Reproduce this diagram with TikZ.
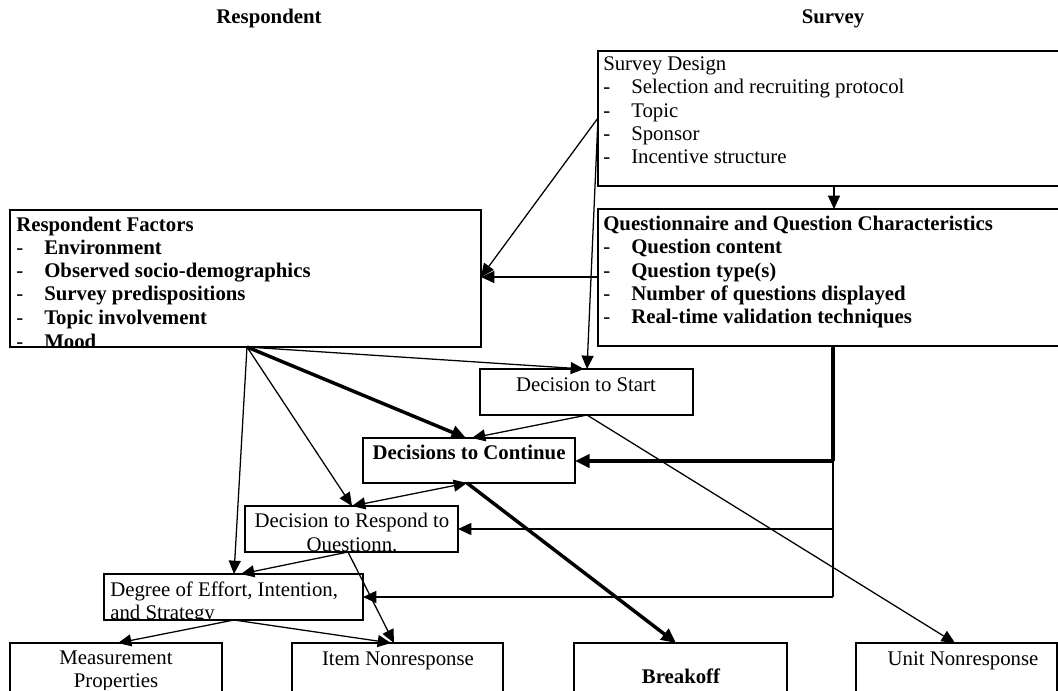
\documentclass[tikz,border=0pt]{standalone}
\usepackage{fontspec}
\setmainfont{Liberation Serif}
\usetikzlibrary{arrows.meta,fit}
\newcommand\fsz{\fontsize{15.6pt}{17.4pt}\selectfont}
\begin{document}
\begin{tikzpicture}[x=0.75pt,y=-0.75pt,
  bx/.style={draw,line width=1pt,inner sep=0pt,outer sep=0pt},
  ltxt/.style={font=\fsz,inner sep=0pt,anchor=base west},
  btxt/.style={font=\fsz\bfseries,inner sep=0pt,anchor=base west},
  ctxt/.style={font=\fsz,inner sep=0pt,anchor=base},
  cbtxt/.style={font=\fsz\bfseries,inner sep=0pt,anchor=base},
  thinarr/.style={line width=0.95pt,-{Triangle[length=10pt,width=9pt]}},
  thinboth/.style={line width=0.95pt,{Triangle[length=10pt,width=9pt]}-{Triangle[length=10pt,width=9pt]}},
  thickarr/.style={line width=2.6pt,-{Triangle[length=11pt,width=10pt]}},
  midarr/.style={line width=1.2pt,-{Triangle[length=10pt,width=9pt]}},
  busline/.style={line width=2.6pt},
  busthin/.style={line width=1.5pt}]
\useasboundingbox (0,0) rectangle (1058,690);
\clip (0,0) rectangle (1058,690);

% titles
\node[cbtxt] (tR) at (269,23) {Respondent};
\node[cbtxt] (tS) at (833,23) {Survey};

% boxes
\node[bx,fit={(598,51) (1075,186)}] (SD) {};
\node[bx,fit={(598,209) (1075,346)}] (QC) {};
\node[bx,fit={(10,210) (481,347)}] (RF) {};
\node[bx,fit={(480,369) (693,415)}] (DS) {};
\node[bx,fit={(363,438) (575,483)}] (DC) {};
\node[bx,fit={(245,506) (458,552)}] (DR) {};
\node[bx,fit={(104,574) (363,620)}] (DE) {};
\node[bx,fit={(10,643) (222,700)}] (MP) {};
\node[bx,fit={(292,643) (503,700)}] (IN) {};
\node[bx,fit={(574,643) (787,700)}] (BO) {};
\node[bx,fit={(856,643) (1057,700)}] (UN) {};

% Survey Design text
\node[ltxt] (sd0) at (603,70) {Survey Design};
\node[ltxt] (sd1d) at (603,93) {-}; \node[ltxt] (sd1) at (631,93) {Selection and recruiting protocol};
\node[ltxt] (sd2d) at (603,117) {-}; \node[ltxt] (sd2) at (631,117) {Topic};
\node[ltxt] (sd3d) at (603,140) {-}; \node[ltxt] (sd3) at (631,140) {Sponsor};
\node[ltxt] (sd4d) at (603,163) {-}; \node[ltxt] (sd4) at (631,163) {Incentive structure};

% Questionnaire text
\node[btxt] (qc0) at (603,230) {Questionnaire and Question Characteristics};
\node[ltxt] (qc1d) at (603,253) {-}; \node[btxt] (qc1) at (631,253) {Question content};
\node[ltxt] (qc2d) at (603,277) {-}; \node[btxt] (qc2) at (631,277) {Question type(s)};
\node[ltxt] (qc3d) at (603,300) {-}; \node[btxt] (qc3) at (631,300) {Number of questions displayed};
\node[ltxt] (qc4d) at (603,323) {-}; \node[btxt] (qc4) at (631,323) {Real-time validation techniques};

% Respondent Factors text (clipped)
\begin{scope}
\clip (10,210) rectangle (481,346.5);
\node[btxt] (rf0) at (16,231) {Respondent Factors};
\node[ltxt] (rf1d) at (16,254) {-}; \node[btxt] (rf1) at (44,254) {Environment};
\node[ltxt] (rf2d) at (16,277) {-}; \node[btxt] (rf2) at (44,277) {Observed socio-demographics};
\node[ltxt] (rf3d) at (16,300) {-}; \node[btxt] (rf3) at (44,300) {Survey predispositions};
\node[ltxt] (rf4d) at (16,324) {-}; \node[btxt] (rf4) at (44,324) {Topic involvement};
\node[ltxt] (rf5d) at (16,348) {-}; \node[btxt] (rf5) at (44,348) {Mood};
\end{scope}

\node[ctxt] (dst) at (586,391) {Decision to Start};
\node[cbtxt] (dct) at (469,459) {Decisions to Continue};
\begin{scope}
\clip (245,506) rectangle (458,551.5);
\node[ctxt] (drt1) at (352,527) {Decision to Respond to};
\node[ctxt] (drt2) at (352,551) {Questionn.};
\end{scope}
\begin{scope}
\clip (104,574) rectangle (363,619.5);
\node[ltxt] (det1) at (110,596) {Degree of Effort, Intention,};
\node[ltxt] (det2) at (110,619) {and Strategy};
\end{scope}
\begin{scope}
\clip (10,643) rectangle (222,689.5);
\node[ctxt] (mpt1) at (116,664) {Measurement};
\node[ctxt] (mpt2) at (116,687.5) {Properties};
\end{scope}
\node[ctxt] (int) at (398,665) {Item Nonresponse};
\node[cbtxt] (bot) at (681,683) {Breakoff};
\node[ctxt] (unt) at (963,665) {Unit Nonresponse};

% connector points
\coordinate (sdOut) at (598,118);
\coordinate (sdBot) at (834,186);
\coordinate (qcTop) at (834,209);
\coordinate (qcOut) at (598,277);
\coordinate (rfIn) at (481,277);
\coordinate (rfOut) at (247,347);
\coordinate (dsIn1) at (587,369);
\coordinate (dsIn2) at (584,369);
\coordinate (dsOut) at (587,415);
\coordinate (dcIn1) at (466,438);
\coordinate (dcIn2) at (472,438);
\coordinate (dcOut) at (467,483);
\coordinate (dcR) at (575,461);
\coordinate (drIn) at (352,506);
\coordinate (drOut) at (348,552);
\coordinate (drR) at (458,529);
\coordinate (deIn1) at (234,574);
\coordinate (deIn2) at (241,574);
\coordinate (deOut) at (234,620);
\coordinate (deR) at (363,597);
\coordinate (mpIn) at (118,643);
\coordinate (inIn1) at (394,643);
\coordinate (inIn2) at (391,643);
\coordinate (boIn) at (676,643);
\coordinate (unIn) at (955,643);
\coordinate (busTop) at (833,346);
\coordinate (busA) at (833,461);
\coordinate (busB) at (833,529);
\coordinate (busC) at (833,597);

% connectors
\draw[thinarr] (sdBot) -- (qcTop);
\draw[thinarr] (sdOut) -- (rfIn);
\draw[thinarr] (sdOut) -- (dsIn1);
\draw[thinarr] (qcOut) -- (rfIn);
\draw[thinarr] (rfOut) -- (dsIn2);
\draw[thickarr] (rfOut) -- (dcIn1);
\draw[thinarr] (rfOut) -- (drIn);
\draw[thinarr] (rfOut) -- (deIn1);
\draw[thinarr] (dsOut) -- (dcIn2);
\draw[thinarr] (dsOut) -- (unIn);
\draw[busline] (busTop) -- (busA);
\draw[thickarr] (busA) -- (dcR);
\draw[busthin] (busA) -- (busC);
\draw[midarr] (busB) -- (drR);
\draw[midarr] (busC) -- (deR);
\draw[thinboth] (dcOut) -- (drIn);
\draw[thickarr] (dcOut) -- (boIn);
\draw[thinarr] (drOut) -- (deIn2);
\draw[thinarr] (drOut) -- (inIn1);
\draw[thinarr] (deOut) -- (mpIn);
\draw[thinarr] (deOut) -- (inIn2);
\end{tikzpicture}
\end{document}
